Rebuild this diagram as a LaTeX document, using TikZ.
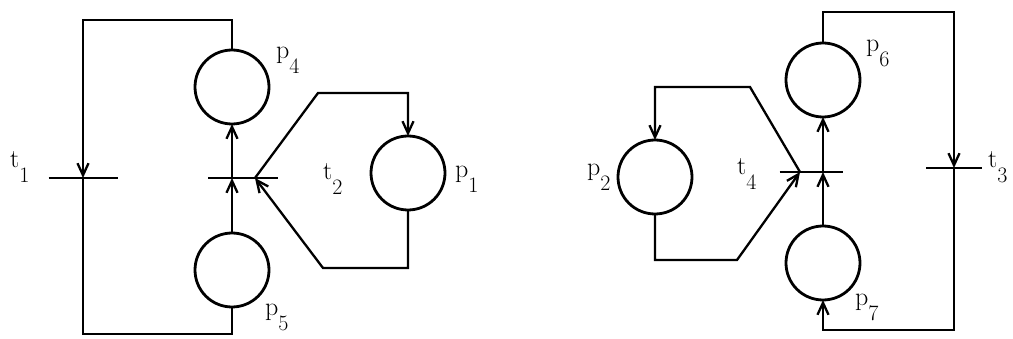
\documentclass[tikz,border=0pt]{standalone}
\usetikzlibrary{arrows.meta}
\newcommand\lbl[2]{#1\raisebox{-15pt}{\fontsize{22}{22}\selectfont #2}}
\begin{document}
\begin{tikzpicture}[x=1pt,y=-1pt,
  place/.style={circle,draw,line width=2.8pt,minimum size=74pt,inner sep=0pt,outer sep=0pt},
  bar/.style={inner sep=0pt,outer sep=0pt,minimum height=0pt},
  conn/.style={line width=2.3pt,line join=miter},
  arr/.style={conn,-{Straight Barb[length=12pt,width=11pt]}},
  lab/.style={anchor=base west,inner sep=0pt,font=\fontsize{26}{26}\selectfont}]
\useasboundingbox (0,0) rectangle (1013,339);
% places
\node[place] (p4) at (232,87) {};
\node[place] (p5) at (232,270) {};
\node[place] (p1) at (408,173) {};
\node[place] (p2) at (655,177) {};
\node[place] (p6) at (823,80) {};
\node[place] (p7) at (823,263) {};
% transitions
\node[bar,minimum width=69pt] (t1) at (83,178) {};
\node[bar,minimum width=70pt] (t2) at (243,178) {};
\node[bar,minimum width=63pt] (t4) at (811,172) {};
\node[bar,minimum width=56pt] (t3) at (954,168) {};
\foreach \t in {t1,t2,t3,t4} \draw[conn] (\t.west) -- (\t.east);
\coordinate (t2in) at (255,178);
\coordinate (t4in) at (800,172);
% left net
\draw[arr] (p4.north) -- ++(0,-30) -| (t1.center);
\draw[conn] (t1.center) |- ([yshift=-27pt]p5.south) -- (p5.south);
\draw[arr] (p5.north) -- (p5.north |- t2.center);
\draw[arr] (p4.south |- t2.center) -- (p4.south);
\draw[arr] (p1.south) -- ++(0,58) -- ++(-85,0) -- (t2in);
\draw[arr] (t2in) -- ++(63,-85) -| (p1.north);
% right net
\draw[arr] (t4in) -- ++(-50,-85) -| (p2.north);
\draw[arr] (p2.south) -- ++(0,46) -- ++(82,0) -- (t4in);
\draw[arr] (p7.north) -- (p7.north |- t4.center);
\draw[arr] (p6.south |- t4.center) -- (p6.south);
\draw[arr] (p6.north) -- ++(0,-31) -| (t3.center);
\draw[arr] (t3.center) -- ++(0,162) -| (p7.south);
% labels
\node[lab] (l1) at (10,168) {\lbl{t}{1}};
\node[lab] (l4) at (276,59) {\lbl{p}{4}};
\node[lab] (l2) at (323,180) {\lbl{t}{2}};
\node[lab] (lp1) at (455,178) {\lbl{p}{1}};
\node[lab] (l5) at (265,316) {\lbl{p}{5}};
\node[lab] (lp2) at (587,176) {\lbl{p}{2}};
\node[lab] (lt4) at (737,175) {\lbl{t}{4}};
\node[lab] (l6) at (866,52) {\lbl{p}{6}};
\node[lab] (lt3) at (988,168) {\lbl{t}{3}};
\node[lab] (l7) at (855,306) {\lbl{p}{7}};
\end{tikzpicture}
\end{document}
